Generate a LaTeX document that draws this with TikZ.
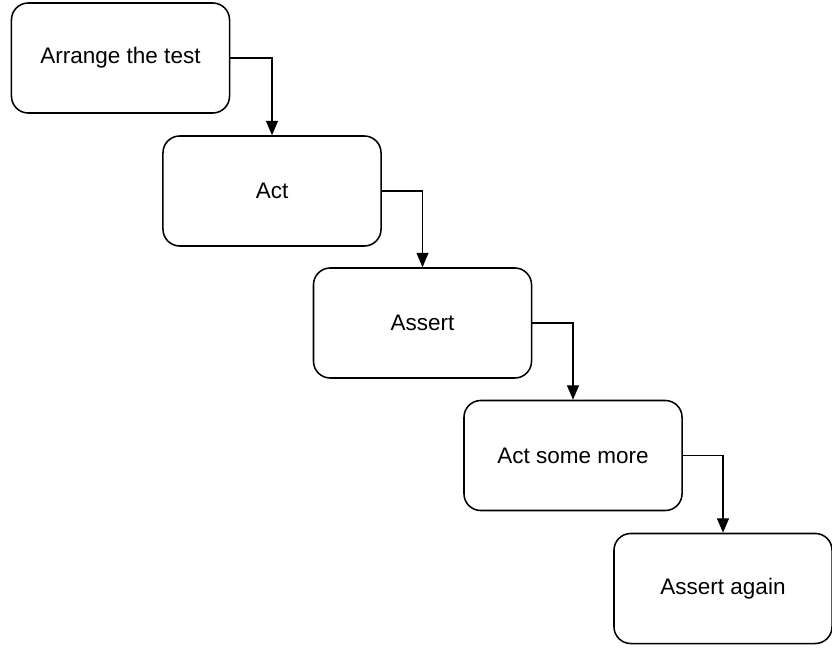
\documentclass[tikz,border=0pt]{standalone}
\usepackage{fontspec}
\setmainfont{Liberation Sans}
\usetikzlibrary{arrows.meta}

\begin{document}
\begin{tikzpicture}[x=0.025cm, y=-0.025cm,
        stage/.style={draw, line width=1.1pt, rounded corners=0.42cm, minimum width=5.45cm, minimum height=2.75cm, font=\fontsize{16}{19}\selectfont},
        flow/.style={line width=0.9pt, -{Triangle[length=0.36cm, width=0.3cm]}}]
        % Frame
        \useasboundingbox (0,0) rectangle (832,650);
        
        % Stages
        \node[stage] (arrange) at (120.5,58) {Arrange the test};
        \node[stage] (act) at (272,191) {Act};
        \node[stage] (assert) at (422.5,323) {Assert};
        \node[stage] (actmore) at (573,455.5) {Act some more};
        \node[stage] (assertagain) at (723,588.5) {Assert again};
        
        % Steps
        \draw[flow] (arrange.east) -| (act.north);
        \draw[flow] (act.east) -| (assert.north);
        \draw[flow] (assert.east) -| (actmore.north);
        \draw[flow] (actmore.east) -| (assertagain.north);
    \end{tikzpicture}
\end{document}
